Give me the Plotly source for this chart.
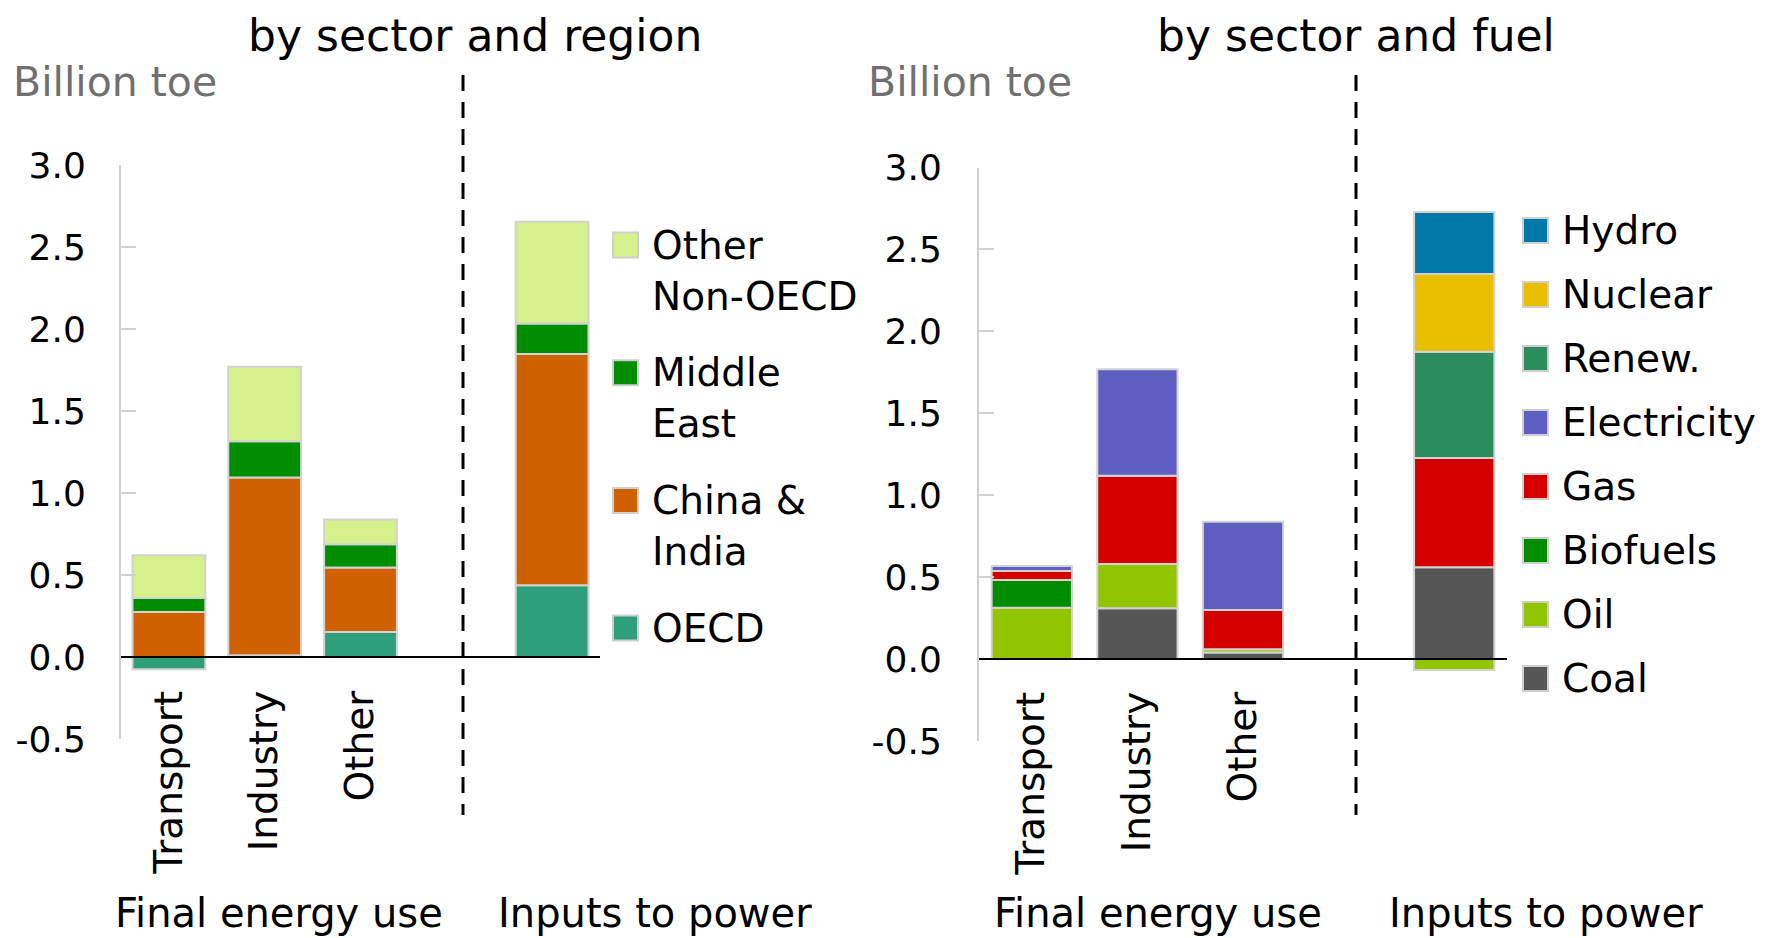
import plotly.graph_objects as go

# ---------------- data ----------------
columns = ["Transport", "Industry", "Other", "Inputs to power"]
column_slots = ["Transport", "Industry", "Other", " ", "Inputs to power"]
sector_ticks = ["Transport", "Industry", "Other"]
group_labels = ["Final energy use", "Inputs to power"]
titles = ["by sector and region", "by sector and fuel"]
unit_label = "Billion toe"

y_tick_vals = [-0.5, 0.0, 0.5, 1.0, 1.5, 2.0, 2.5, 3.0]
y_tick_text = ["-0.5", "0.0", "0.5", "1.0", "1.5", "2.0", "2.5", "3.0"]

# by sector and region (stack order bottom -> top)
region_names = ["OECD", "China & India", "Middle East", "Other Non-OECD"]
region_legend = ["OECD", "China &<br>India", "Middle<br>East", "Other<br>Non-OECD"]
oecd = [-0.075, 0.01, 0.153, 0.437]
china_india = [0.275, 1.085, 0.392, 1.41]
middle_east = [0.085, 0.22, 0.143, 0.187]
other_non_oecd = [0.26, 0.455, 0.15, 0.62]
region_values = [oecd, china_india, middle_east, other_non_oecd]
region_colors = ["#2f9f7b", "#cf6100", "#008e00", "#d6f08c"]

# by sector and fuel (stack order bottom -> top)
fuel_names = ["Coal", "Oil", "Biofuels", "Gas", "Electricity", "Renew.", "Nuclear", "Hydro"]
coal = [None, 0.31, 0.04, 0.56]
oil = [0.313, 0.27, 0.02, -0.067]
biofuels = [0.169, None, None, None]
gas = [0.055, 0.539, 0.24, 0.667]
electricity = [0.031, 0.65, 0.538, None]
renew = [None, None, None, 0.649]
nuclear = [None, None, None, 0.474]
hydro = [None, None, None, 0.379]
fuel_values = [coal, oil, biofuels, gas, electricity, renew, nuclear, hydro]
fuel_colors = ["#565656", "#92c400", "#008e00", "#d40000", "#5f5fc2", "#2b8c5e", "#e9bd00", "#0079a8"]

# ---------------- layout helpers (pixel geometry) ----------------
W, H = 1772, 938
OFF = 8  # page body margin of the written html
FONT = "DejaVu Sans"


def px(x):
    return (x - OFF) / W


def py(y):
    return 1 - (y - OFF) / H


fig = go.Figure()

panels = [
    dict(xa="x", ya="y", names=region_names, legend=region_legend, values=region_values,
         colors=region_colors),
    dict(xa="x2", ya="y2", names=fuel_names, legend=fuel_names, values=fuel_values,
         colors=fuel_colors),
]

for p in panels:
    for name, vals, col in zip(p["names"], p["values"], p["colors"]):
        fig.add_trace(go.Bar(
            x=columns, y=vals, name=name, xaxis=p["xa"], yaxis=p["ya"],
            marker=dict(color=col, line=dict(color="#d2d2d2", width=2)),
            width=0.76, showlegend=False,
        ))

geom = [
    dict(x0=121, x1=600, y0=165, y1=739, lab_top=682, dash=463, title_x=475,
         unit_x=11, tick_right=85, groups=[279, 655], leg_box=613, leg_text=651,
         leg_first=245, leg_step=127.7),
    dict(x0=979, x1=1507, y0=167.5, y1=741, lab_top=683, dash=1356, title_x=1356,
         unit_x=866, tick_right=941, groups=[1158, 1546], leg_box=1523, leg_text=1561,
         leg_first=230.5, leg_step=64),
]

layout = dict(
    width=W, height=H, margin=dict(l=0, r=0, t=0, b=0, pad=0, autoexpand=False),
    paper_bgcolor="white", plot_bgcolor="white", barmode="relative",
    bargap=0.24, showlegend=False, font=dict(family=FONT, color="black"),
)

for i, g in enumerate(geom):
    sfx = "" if i == 0 else "2"
    layout["xaxis" + sfx] = dict(
        domain=[px(g["x0"]), px(g["x1"])], range=[-0.5, 4.5],
        type="category", categoryorder="array", categoryarray=column_slots,
        tickmode="array", tickvals=sector_ticks, ticktext=sector_ticks,
        tickangle=-90, tickfont=dict(size=39, family=FONT, color="black"),
        anchor="free", position=py(g["lab_top"]), showline=False, showgrid=False,
        zeroline=False, ticks="", fixedrange=True, automargin=False,
    )
    layout["yaxis" + sfx] = dict(
        domain=[py(g["y1"]), py(g["y0"])], range=[-0.5, 3.0], anchor="x" + sfx,
        tickmode="array", tickvals=y_tick_vals, ticktext=y_tick_text,
        tickfont=dict(size=36, family=FONT, color="black"),
        showline=True, linecolor="#d0d0d0", linewidth=2,
        ticks="inside", ticklen=15, tickwidth=2, tickcolor="#d0d0d0",
        ticklabelstandoff=g["x0"] - g["tick_right"] - 10,
        showgrid=False, zeroline=False, fixedrange=True, automargin=False,
    )

fig.update_layout(**layout)

shapes = []
annotations = []
for i, (g, p) in enumerate(zip(geom, panels)):
    sfx = "" if i == 0 else "2"
    # zero line above bars
    shapes.append(dict(type="line", xref="x" + sfx + " domain", yref="y" + sfx,
                       x0=0, x1=1, y0=0, y1=0, line=dict(color="black", width=2), layer="above"))
    # dashed separator
    shapes.append(dict(type="line", xref="paper", yref="paper",
                       x0=px(g["dash"]), x1=px(g["dash"]), y0=py(75), y1=py(815),
                       line=dict(color="black", width=3, dash="16px,11px"), layer="above"))
    # title
    annotations.append(dict(xref="paper", yref="paper", x=px(g["title_x"]), y=py(35),
                            xanchor="center", yanchor="middle", showarrow=False,
                            text=titles[i], font=dict(size=44, family=FONT, color="black")))
    # unit label
    annotations.append(dict(xref="paper", yref="paper", x=px(g["unit_x"]), y=py(82),
                            xanchor="left", yanchor="middle", showarrow=False,
                            text=unit_label, font=dict(size=41, family=FONT, color="#707070")))
    # group labels
    for gx, gl in zip(g["groups"], group_labels):
        annotations.append(dict(xref="paper", yref="paper", x=px(gx), y=py(913),
                                xanchor="center", yanchor="middle", showarrow=False,
                                text=gl, font=dict(size=40, family=FONT, color="black")))
    # legend (top item = top of stack)
    items = list(zip(p["legend"], p["colors"]))[::-1]
    fs = 39
    for k, (lab, col) in enumerate(items):
        yc = g["leg_first"] + k * g["leg_step"]
        shapes.append(dict(type="rect", xref="paper", yref="paper",
                           x0=px(g["leg_box"]), x1=px(g["leg_box"] + 25),
                           y0=py(yc + 12.5), y1=py(yc - 12.5),
                           fillcolor=col, line=dict(color="#cfcfcf", width=2)))
        annotations.append(dict(xref="paper", yref="paper", x=px(g["leg_text"]),
                                y=py(yc - 0.6 * fs), xanchor="left", yanchor="top",
                                showarrow=False, align="left", text=lab, borderpad=0,
                                font=dict(size=fs, family=FONT, color="black")))

fig.update_layout(shapes=shapes, annotations=annotations)

fig.write_html("out.html")
